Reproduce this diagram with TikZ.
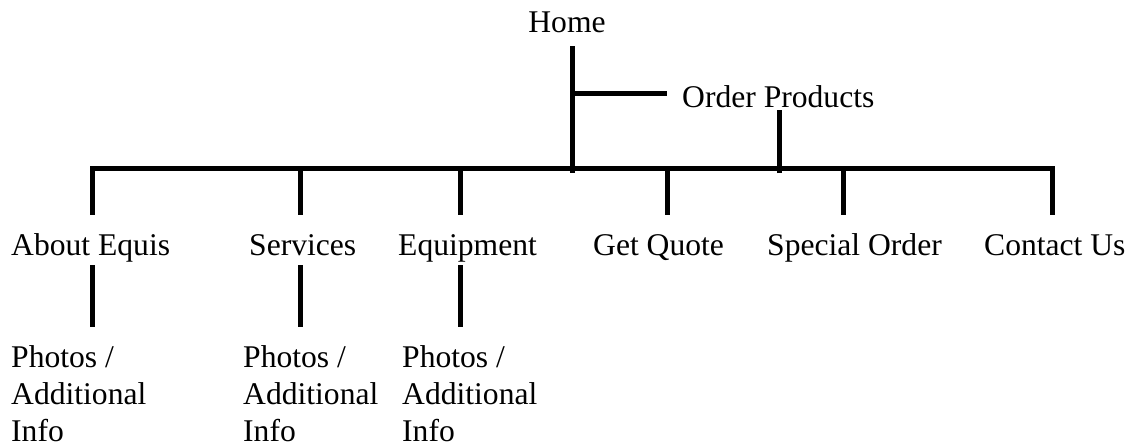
\documentclass[tikz,border=0pt]{standalone}
\usepackage{fontspec}
\setmainfont{Liberation Serif}

\tikzset{
  page/.style={x=1pt,y=-1pt},
  menu/.style={inner sep=0pt,font=\fontsize{31.6}{37}\selectfont,text height=22pt,text depth=7pt},
  sub/.style={inner sep=0pt,font=\fontsize{31.6}{37}\selectfont,align=left,anchor=north west},
  link/.style={line width=5pt,line join=miter}
}

\begin{document}
\begin{tikzpicture}[page]
\useasboundingbox (0,0) rectangle (1130,447);
% pages
\node[menu,anchor=base] (home) at (567,32) {Home};
\node[menu,anchor=base west] (order) at (682,107) {Order Products};
\node[menu,anchor=base west] (about) at (11,255) {About Equis};
\node[menu,anchor=base west] (services) at (249,255) {Services};
\node[menu,anchor=base west] (equip) at (398,255) {Equipment};
\node[menu,anchor=base west] (quote) at (593,255) {Get Quote};
\node[menu,anchor=base west] (special) at (767,255) {Special Order};
\node[menu,anchor=base west] (contact) at (984,255) {Contact Us};
\node[sub] (photosA) at (11,345) {Photos /\\Additional\\Info};
\node[sub] (photosS) at (243,345) {Photos /\\Additional\\Info};
\node[sub] (photosE) at (402,345) {Photos /\\Additional\\Info};
% junctions
\coordinate (jA) at (92,168); \coordinate (jS) at (300,168);
\coordinate (jE) at (460,168); \coordinate (jQ) at (667,168);
\coordinate (jO) at (843,168); \coordinate (jC) at (1052,168);
\coordinate (hub) at (572,173); \coordinate (fork) at (572,93);
\coordinate (opfoot) at (779,173);
% bar
\draw[link,shorten <=18pt,shorten >=18pt] (jA |- about.north) -- (jA) -- (jC) -- (jC |- contact.north);
\draw[link,shorten >=18pt] (jS) -- (jS |- services.north);
\draw[link,shorten >=18pt] (jE) -- (jE |- equip.north);
\draw[link,shorten >=18pt] (jQ) -- (jQ |- quote.north);
\draw[link,shorten >=18pt] (jO) -- (jO |- special.north);
% home and order products
\draw[link,shorten <=7pt] (hub |- home.south) -- (hub);
\draw[link,shorten >=15pt] (fork) -- (fork -| order.west);
\draw[link,shorten >=3pt] (opfoot) -- (opfoot |- order.base);
% sub pages
\draw[link,shorten <=3pt,shorten >=18pt] (jA |- about.south) -- (jA |- photosA.north);
\draw[link,shorten <=3pt,shorten >=18pt] (jS |- services.south) -- (jS |- photosS.north);
\draw[link,shorten <=3pt,shorten >=18pt] (jE |- equip.south) -- (jE |- photosE.north);
\end{tikzpicture}
\end{document}
